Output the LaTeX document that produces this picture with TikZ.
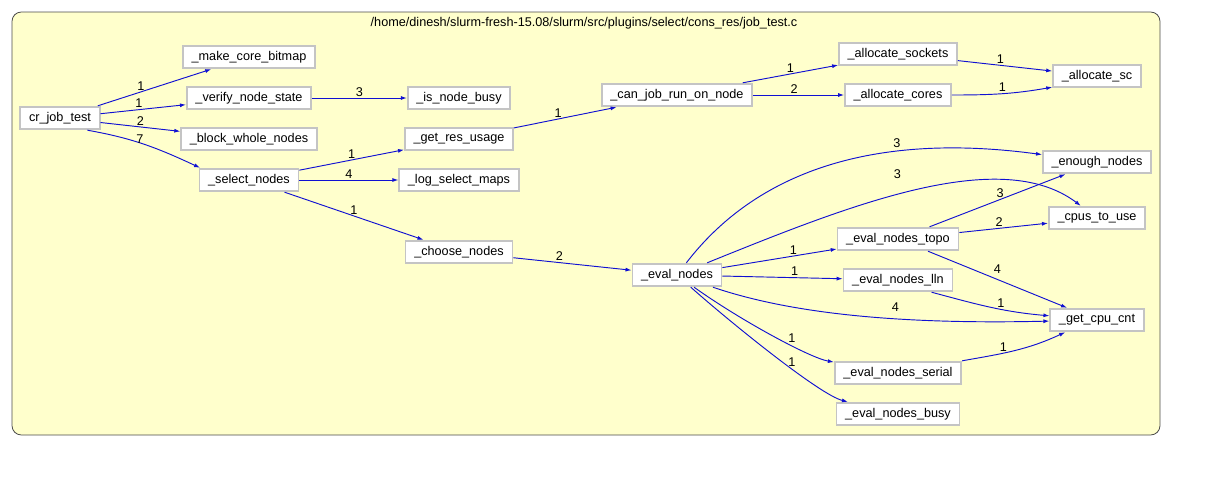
\documentclass[tikz,border=0pt]{standalone}
\usepackage{fontspec}
\setmainfont{Liberation Sans}
\usetikzlibrary{arrows.meta}
\definecolor{clusterfill}{RGB}{255,255,204}
\definecolor{edgeblue}{RGB}{16,16,210}
\definecolor{boxgrey}{RGB}{196,196,196}

\begin{document}
\begin{tikzpicture}[
    x=0.75pt, y=-0.75pt,
    fnbox/.style={rectangle, draw=boxgrey, fill=white, line width=1.3pt,
        minimum height=17pt, inner xsep=6.5pt, inner ysep=0pt,
        font=\fontsize{9.5}{11}\selectfont},
    callarrow/.style={draw=edgeblue, line width=0.7pt,
        -{Latex[length=4.5pt,width=3pt]}},
    cntlabel/.style={font=\fontsize{9.5}{11}\selectfont, inner sep=1pt, text=black}
]
\useasboundingbox (0,0) rectangle (1208,483);
\draw[fill=clusterfill, draw=black!70, rounded corners=7pt, line width=0.6pt]
    (12,12) rectangle (1160,435);
\node[cntlabel] (title) at (584,23)
    {/home/dinesh/slurm-fresh-15.08/slurm/src/plugins/select/cons\_res/job\_test.c};

% functions
\node[fnbox] (crjob) at (60,118) {cr\_job\_test};
\node[fnbox] (makebitmap) at (249,57) {\_make\_core\_bitmap};
\node[fnbox] (verify) at (249,98) {\_verify\_node\_state};
\node[fnbox] (blockwhole) at (249,139) {\_block\_whole\_nodes};
\node[fnbox] (select) at (249,180) {\_select\_nodes};
\node[fnbox] (isbusy) at (459,98) {\_is\_node\_busy};
\node[fnbox] (resusage) at (459,139) {\_get\_res\_usage};
\node[fnbox] (logmaps) at (459,180) {\_log\_select\_maps};
\node[fnbox] (choose) at (459,252) {\_choose\_nodes};
\node[fnbox] (canrun) at (677,95) {\_can\_job\_run\_on\_node};
\node[fnbox] (evalnodes) at (677,275) {\_eval\_nodes};
\node[fnbox] (allocsockets) at (898,54) {\_allocate\_sockets};
\node[fnbox] (alloccores) at (898,95) {\_allocate\_cores};
\node[fnbox] (topo) at (898,239) {\_eval\_nodes\_topo};
\node[fnbox] (lln) at (898,280) {\_eval\_nodes\_lln};
\node[fnbox] (serial) at (898,373) {\_eval\_nodes\_serial};
\node[fnbox] (busy) at (898,414) {\_eval\_nodes\_busy};
\node[fnbox] (allocsc) at (1097,76) {\_allocate\_sc};
\node[fnbox] (enough) at (1097,162) {\_enough\_nodes};
\node[fnbox] (cpususe) at (1097,218) {\_cpus\_to\_use};
\node[fnbox] (cpucnt) at (1097,320) {\_get\_cpu\_cnt};

% calls
\draw[callarrow] (crjob) -- node[cntlabel, pos=0.38, above] {1} (makebitmap);
\draw[callarrow] (crjob) -- node[cntlabel, pos=0.45, above] {1} (verify);
\draw[callarrow] (crjob) -- node[cntlabel, pos=0.5, above] {2} (blockwhole);
\draw[callarrow] (crjob.-24) to[out=-10, in=155]
    node[cntlabel, pos=0.45, above=-2pt] {7} (select.166);
\draw[callarrow] (verify) -- node[cntlabel, above] {3} (isbusy);
\draw[callarrow] (select) -- node[cntlabel, above] {1} (resusage);
\draw[callarrow] (select) -- node[cntlabel, above] {4} (logmaps);
\draw[callarrow] (select) -- node[cntlabel, above] {1} (choose);
\draw[callarrow] (resusage) -- node[cntlabel, pos=0.43, above] {1} (canrun);
\draw[callarrow] (choose) -- node[cntlabel, pos=0.39, above] {2} (evalnodes);
\draw[callarrow] (canrun) -- node[cntlabel, above] {1} (allocsockets);
\draw[callarrow] (canrun) -- node[cntlabel, pos=0.45, above] {2} (alloccores);
\draw[callarrow] (allocsockets) -- node[cntlabel, pos=0.45, above] {1} (allocsc);
\draw[callarrow] (alloccores.east) to[out=0, in=190]
    node[cntlabel, pos=0.5, above] {1} (allocsc.194);
\draw[callarrow] (evalnodes) .. controls (750,180) and (860,130) ..
    node[cntlabel, pos=0.7, above=1.5pt] {3} (enough);
\draw[callarrow] (evalnodes) .. controls (850,205) and (1000,145) ..
    node[cntlabel, pos=0.45, above=11pt] {3} (cpususe);
\draw[callarrow] (evalnodes) -- node[cntlabel, pos=0.62, above] {1} (topo);
\draw[callarrow] (evalnodes) -- node[cntlabel, pos=0.6, above] {1} (lln);
\draw[callarrow] (evalnodes) .. controls (780,310) and (880,325) ..
    node[cntlabel, pos=0.65, above=4pt] {4} (cpucnt);
\draw[callarrow] (evalnodes) .. controls (740,320) and (810,358) ..
    node[cntlabel, pos=0.63, above=1pt] {1} (serial);
\draw[callarrow] (evalnodes) .. controls (730,322) and (820,395) ..
    node[cntlabel, pos=0.6, above] {1} (busy);
\draw[callarrow] (topo) -- node[cntlabel, pos=0.52, above] {3} (enough);
\draw[callarrow] (topo) -- node[cntlabel, pos=0.45, above] {2} (cpususe);
\draw[callarrow] (topo) -- node[cntlabel, pos=0.5, above=3pt] {4} (cpucnt);
\draw[callarrow] (lln.-20) to[out=-15, in=175]
    node[cntlabel, pos=0.6, above] {1} (cpucnt.175);
\draw[callarrow] (serial.north east) to[out=10, in=205]
    node[cntlabel, pos=0.38, above] {1} (cpucnt.201);
\end{tikzpicture}
\end{document}
